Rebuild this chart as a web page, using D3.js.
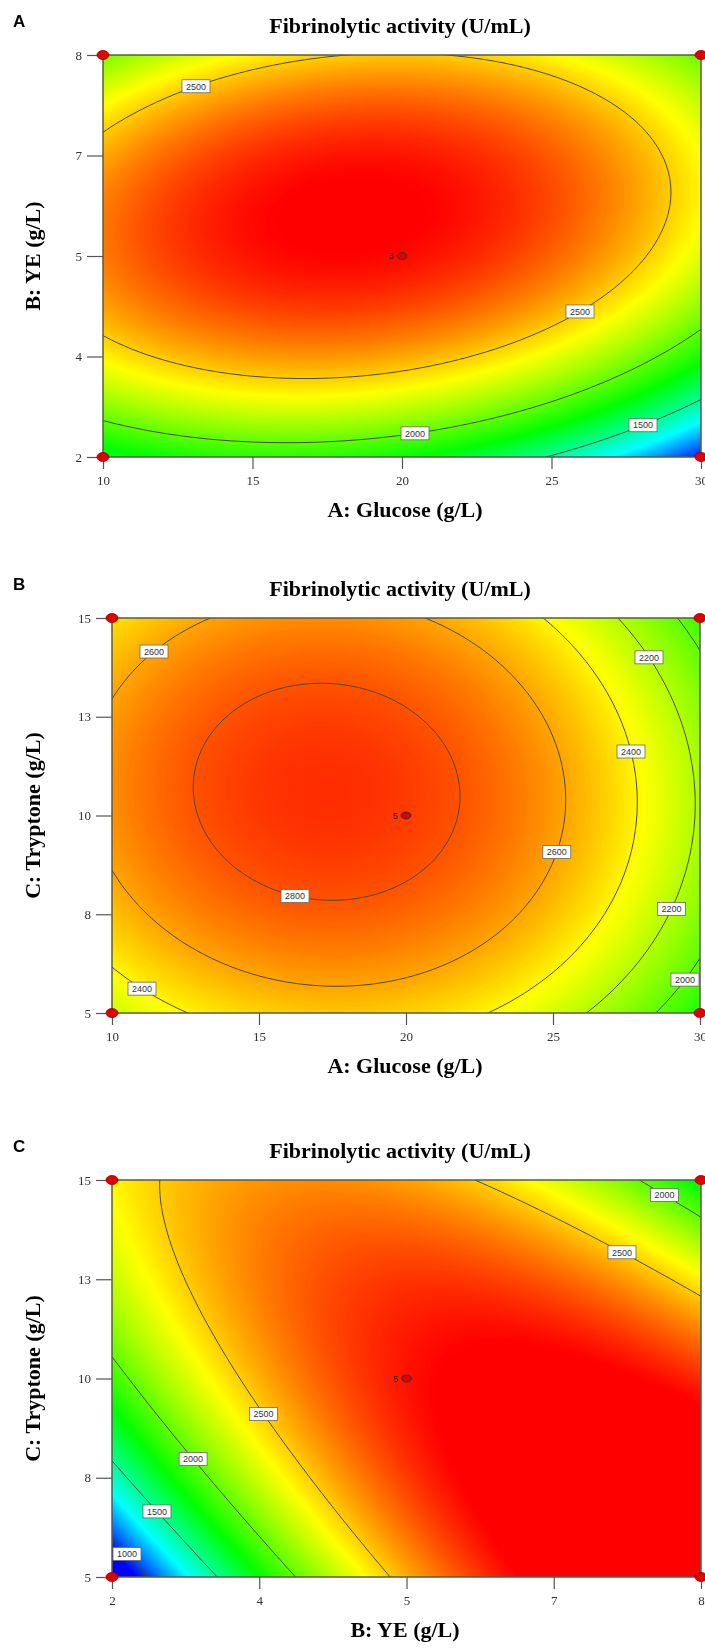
<!DOCTYPE html>
<html>
<head>
<meta charset="utf-8">
<script src="https://cdn.jsdelivr.net/npm/d3@7"></script>
<style>
    body { margin: 0; background: #fff; }
    #wrap { position: relative; width: 705px; height: 1648px; }
    #wrap canvas { position: absolute; z-index: 0; }
    #wrap svg { position: absolute; left: 0; top: 0; z-index: 1; }
</style>
</head>
<body>
<div id="wrap"></div>
<script>
const glucoseTicks = [10, 15, 20, 25, 30];
const glucoseLabels = ["10", "15", "20", "25", "30"];
const yeTicks = [2, 3.5, 5, 6.5, 8];
const yeLabels = ["2", "4", "5", "7", "8"];
const tryptoneTicks = [5, 7.5, 10, 12.5, 15];
const tryptoneLabels = ["5", "8", "10", "13", "15"];

// fitted quadratic models, coded units: [b0, bX, bY, bXY, bXX, bYY]
const modelA = [2977, -197, 361, 180, -473, -825];
const modelB = [2855, -234, 64, -30, -440, -300];
const modelC = [2955, 493, 16, -826, -550, -364];

const levelsA = [1500, 2000, 2500];
const levelsB = [2000, 2200, 2400, 2600, 2800];
const levelsC = [1000, 1500, 2000, 2500];

// where the level labels sit: [x value, y value, level]
const labelsA = [[13.0, 7.67, 2500], [25.7, 4.4, 2500], [20.4, 2.46, 2000], [28.0, 2.5, 1500]];
const labelsB = [[11.4, 14.16, 2600], [29.2, 14.47, 2200], [25.2, 11.15, 2400], [16.55, 8.9, 2800],
    [23.95, 9.36, 2600], [28.7, 7.77, 2200], [11.2, 5.78, 2400], [29.4, 5.9, 2000]];
const labelsC = [[7.49, 14.04, 2000], [6.78, 11.2, 2500], [3.9, 9.7, 2500], [2.88, 8.05, 2000],
    [2.51, 6.79, 1500], [2.18, 5.8, 1000]];

const centerRuns = ["3", "5", "5"];

// response values for blue, cyan, green, yellow, red
const colorStops = [900, 1300, 1780, 2380, 3000];
const rampColors = ["#0000ff", "#00ffff", "#00ff00", "#ffff00", "#ff0000"];

const W = 705, H = 1648;
const wrap = d3.select("#wrap");
const svg = wrap.append("svg").attr("width", W).attr("height", H);

const colorScale = d3.scaleLinear().domain(colorStops).range(rampColors).clamp(true);

class ContourPanel {
    constructor(id, box) {
        this.id = id;
        this.left = box.left; this.top = box.top;
        this.width = box.right - box.left;
        this.height = box.bottom - box.top;
    }

    update(opt) {
        const { xTicks, xLabels, yTicks, yLabels, model, levels, labels } = opt;
        this.x = d3.scaleLinear().domain(d3.extent(xTicks)).range([this.left, this.left + this.width]);
        this.y = d3.scaleLinear().domain(d3.extent(yTicks)).range([this.top + this.height, this.top]);
        const [x0, x1] = this.x.domain(), [y0, y1] = this.y.domain();
        const value = (xv, yv) => {
            const a = (xv - (x0 + x1) / 2) / ((x1 - x0) / 2);
            const b = (yv - (y0 + y1) / 2) / ((y1 - y0) / 2);
            return model[0] + model[1] * a + model[2] * b + model[3] * a * b + model[4] * a * a + model[5] * b * b;
        };

        // colour field
        const canvas = wrap.append("canvas")
            .attr("width", this.width).attr("height", this.height)
            .style("left", this.left + "px").style("top", this.top + "px")
            .node();
        const ctx = canvas.getContext("2d");
        const img = ctx.createImageData(this.width, this.height);
        const lo = colorStops[0] - 300, hi = colorStops[4] + 300;
        const lut = d3.range(601).map(k => d3.rgb(colorScale(lo + k * (hi - lo) / 600)));
        for (let j = 0; j < this.height; j++) {
            const yv = this.y.invert(this.top + j + 0.5);
            for (let i = 0; i < this.width; i++) {
                const v = value(this.x.invert(this.left + i + 0.5), yv);
                const k = Math.max(0, Math.min(600, Math.round((v - lo) / (hi - lo) * 600)));
                const c = lut[k], p = (j * this.width + i) * 4;
                img.data[p] = c.r; img.data[p + 1] = c.g; img.data[p + 2] = c.b; img.data[p + 3] = 255;
            }
        }
        ctx.putImageData(img, 0, 0);

        const g = svg.append("g");
        g.append("clipPath").attr("id", "clip" + this.id)
            .append("rect")
            .attr("x", this.left).attr("y", this.top)
            .attr("width", this.width).attr("height", this.height);

        // contour lines, grid reaches past the frame so ring edges get clipped away
        const step = 3, pad = 9;
        const nx = Math.ceil((this.width + 2 * pad) / step) + 1;
        const ny = Math.ceil((this.height + 2 * pad) / step) + 1;
        const grid = new Array(nx * ny);
        for (let l = 0; l < ny; l++) {
            for (let k = 0; k < nx; k++) {
                grid[l * nx + k] = value(this.x.invert(this.left - pad + k * step), this.y.invert(this.top - pad + l * step));
            }
        }
        const left = this.left, top = this.top;
        const toPx = (cx, cy) => [left - pad + (cx - 0.5) * step, top - pad + (cy - 0.5) * step];
        const contours = d3.contours().size([nx, ny]).thresholds(levels)(grid);
        const proj = d3.geoTransform({
            point(px, py) { const p = toPx(px, py); this.stream.point(p[0], p[1]); }
        });
        g.append("g")
            .attr("clip-path", `url(#clip${this.id})`)
            .selectAll("path")
            .data(contours)
            .join("path")
            .attr("d", d3.geoPath(proj))
            .attr("fill", "none")
            .attr("stroke", "#4a4a36")
            .attr("stroke-width", 1);

        // frame
        g.append("rect")
            .attr("x", this.left).attr("y", this.top)
            .attr("width", this.width).attr("height", this.height)
            .attr("fill", "none").attr("stroke", "#5a5a4a").attr("stroke-width", 1.5);

        // level labels snapped to the nearest point of their contour
        labels.forEach(([lx, ly, level]) => {
            const c = contours.find(d => d.value === level);
            const ax = this.x(lx), ay = this.y(ly);
            let best = null, bd = Infinity;
            c.coordinates.forEach(poly => poly.forEach(ring => ring.forEach(pt => {
                const [px, py] = toPx(pt[0], pt[1]);
                if (px < this.left + 14 || px > this.left + this.width - 14 || py < this.top + 6 || py > this.top + this.height - 6) return;
                const d = (px - ax) ** 2 + (py - ay) ** 2;
                if (d < bd) { bd = d; best = [px, py]; }
            })));
            if (!best) return;
            const lg = g.append("g").attr("transform", `translate(${best[0]},${best[1]})`);
            lg.append("rect")
                .attr("x", -14).attr("y", -6.5).attr("width", 28).attr("height", 13)
                .attr("fill", "#fff").attr("stroke", "#666").attr("stroke-width", 0.8);
            lg.append("text")
                .attr("text-anchor", "middle").attr("dy", "0.36em")
                .style("font", "9px 'Liberation Sans', Arial, sans-serif")
                .attr("fill", "#333")
                .text(level);
        });

        // axes
        const xAxis = g.append("g")
            .attr("transform", `translate(0,${this.top + this.height})`)
            .call(d3.axisBottom(this.x).tickValues(xTicks).tickFormat((d, i) => xLabels[i]).tickSize(12).tickPadding(7));
        const yAxis = g.append("g")
            .attr("transform", `translate(${this.left},0)`)
            .call(d3.axisLeft(this.y).tickValues(yTicks).tickFormat((d, i) => yLabels[i]).tickSize(16).tickPadding(5));
        [xAxis, yAxis].forEach(ax => {
            ax.select(".domain").remove();
            ax.selectAll("line").attr("stroke", "#555").attr("stroke-width", 1.2);
            ax.selectAll("text")
                .attr("fill", "#333")
                .style("font", "13px 'Liberation Serif', 'Times New Roman', serif");
        });

        // design points at the corners
        const corners = [[x0, y0], [x0, y1], [x1, y0], [x1, y1]];
        g.append("g").selectAll("ellipse")
            .data(corners)
            .join("ellipse")
            .attr("cx", d => this.x(d[0])).attr("cy", d => this.y(d[1]))
            .attr("rx", 6).attr("ry", 4.5)
            .attr("fill", "#e00000").attr("stroke", "#900").attr("stroke-width", 0.8);

        // centre point with its replicate count
        const cx = this.x((x0 + x1) / 2), cy = this.y((y0 + y1) / 2);
        g.append("ellipse")
            .attr("cx", cx).attr("cy", cy).attr("rx", 5).attr("ry", 3.5)
            .attr("fill", "#e00000").attr("stroke", "#333").attr("stroke-width", 1);
        g.append("text")
            .attr("x", cx - 8).attr("y", cy).attr("dy", "0.35em")
            .attr("text-anchor", "end")
            .style("font", "9px 'Liberation Sans', Arial, sans-serif")
            .attr("fill", "#222")
            .text(opt.run);

        // titles
        const serifBold = "bold 22px 'Liberation Serif', 'Times New Roman', serif";
        g.append("text")
            .attr("x", 400).attr("y", this.top - 22)
            .attr("text-anchor", "middle")
            .style("font", serifBold)
            .text("Fibrinolytic activity (U/mL)");
        g.append("text")
            .attr("x", 405).attr("y", this.top + this.height + 60)
            .attr("text-anchor", "middle")
            .style("font", serifBold)
            .text(opt.xTitle);
        g.append("text")
            .attr("transform", `translate(40,${this.top + this.height / 2}) rotate(-90)`)
            .attr("text-anchor", "middle")
            .style("font", serifBold)
            .text(opt.yTitle);
        g.append("text")
            .attr("x", 13).attr("y", this.top - 28)
            .style("font", "bold 17px 'Liberation Sans', Arial, sans-serif")
            .text(opt.letter);
    }
}

const panelA = new ContourPanel("A", { left: 103, right: 701, top: 55, bottom: 457 });
panelA.update({
    letter: "A", run: centerRuns[0],
    xTicks: glucoseTicks, xLabels: glucoseLabels, yTicks: yeTicks, yLabels: yeLabels,
    model: modelA, levels: levelsA, labels: labelsA,
    xTitle: "A: Glucose (g/L)", yTitle: "B: YE (g/L)"
});

const panelB = new ContourPanel("B", { left: 112, right: 700, top: 618, bottom: 1013 });
panelB.update({
    letter: "B", run: centerRuns[1],
    xTicks: glucoseTicks, xLabels: glucoseLabels, yTicks: tryptoneTicks, yLabels: tryptoneLabels,
    model: modelB, levels: levelsB, labels: labelsB,
    xTitle: "A: Glucose (g/L)", yTitle: "C: Tryptone (g/L)"
});

const panelC = new ContourPanel("C", { left: 112, right: 701, top: 1180, bottom: 1577 });
panelC.update({
    letter: "C", run: centerRuns[2],
    xTicks: yeTicks, xLabels: yeLabels, yTicks: tryptoneTicks, yLabels: tryptoneLabels,
    model: modelC, levels: levelsC, labels: labelsC,
    xTitle: "B: YE (g/L)", yTitle: "C: Tryptone (g/L)"
});
</script>
</body>
</html>
